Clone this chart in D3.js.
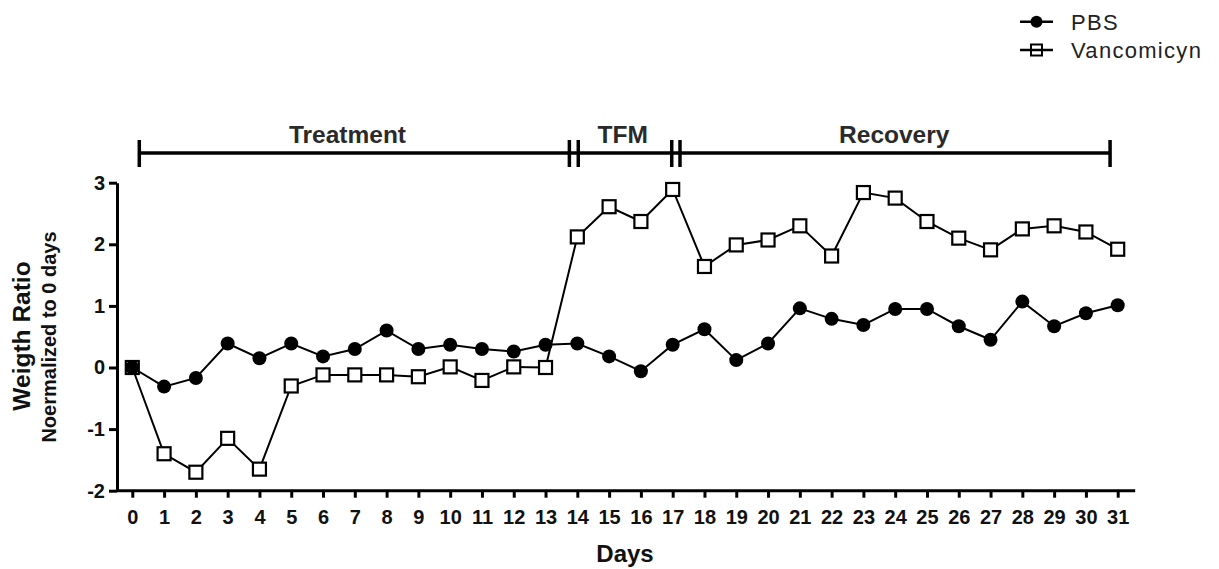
<!DOCTYPE html>
<html>
<head>
<meta charset="utf-8">
<script src="https://cdn.jsdelivr.net/npm/d3@7"></script>
<style>
  html, body { margin: 0; padding: 0; background: #fff; }
  svg { display: block; font-family: "Liberation Sans", Arial, sans-serif; }
</style>
</head>
<body>
<svg id="chart" width="1219" height="569"></svg>
<script>
// ---- data ----
const days = [0,1,2,3,4,5,6,7,8,9,10,11,12,13,14,15,16,17,18,19,20,21,22,23,24,25,26,27,28,29,30,31];
const pbs = [0,-0.31,-0.17,0.39,0.15,0.39,0.18,0.30,0.60,0.30,0.37,0.30,0.26,0.37,0.39,
             0.18,-0.06,0.37,0.62,0.12,0.39,0.96,0.79,0.69,0.95,0.95,0.67,0.45,1.07,0.67,0.88,1.01];
const vanco = [0,-1.40,-1.70,-1.15,-1.65,-0.30,-0.12,-0.12,-0.12,-0.15,0.01,-0.21,0.01,0,2.12,
               2.61,2.37,2.89,1.64,1.99,2.07,2.30,1.81,2.84,2.75,2.37,2.10,1.91,2.25,2.30,2.20,1.92];
const yTicks = [-2,-1,0,1,2,3];
const seriesNames = ["PBS", "Vancomicyn"];
const phaseNames = ["Treatment", "TFM", "Recovery"];
const phaseStarts = [0.22, 14.03, 17.23];
const phaseEnds = [13.75, 16.97, 30.76];
const phaseLabelAt = [6.77, 15.43, 23.97];

// ---- layout ----
const svg = d3.select("#chart");
const x = d3.scaleLinear().domain([0, 31]).range([132.3, 1117.7]);
const y = d3.scaleLinear().domain([-2, 3]).range([490.7, 182.7]);
const axisX = 117;

// y axis
const gy = svg.append("g").attr("transform", `translate(${axisX},0)`)
  .call(d3.axisLeft(y).tickValues(yTicks).tickSize(8).tickSizeOuter(0).tickPadding(4).tickFormat(d => String(d)));
gy.select(".domain").attr("stroke", "#000").attr("stroke-width", 3);
gy.selectAll(".tick line").attr("stroke", "#000").attr("stroke-width", 3);
gy.selectAll(".tick text").attr("font-size", 20).attr("font-weight", "bold")
  .attr("font-family", "Liberation Sans, Arial, sans-serif").attr("fill", "#111");

// x axis
const gx = svg.append("g").attr("transform", `translate(0,${y(-2)})`)
  .call(d3.axisBottom(x).tickValues(days).tickSize(7).tickSizeOuter(0).tickPadding(12).tickFormat(d => String(d)));
gx.select(".domain").remove();
gx.append("line").attr("x1", axisX).attr("x2", x(31) + 17.5).attr("y1", 0).attr("y2", 0)
  .attr("stroke", "#000").attr("stroke-width", 3);
gx.selectAll(".tick line").attr("stroke", "#000").attr("stroke-width", 3);
gx.selectAll(".tick text").attr("font-size", 20).attr("font-weight", "bold")
  .attr("font-family", "Liberation Sans, Arial, sans-serif").attr("fill", "#111");

// axis titles
svg.append("text").attr("transform", "translate(30,336) rotate(-90)")
  .attr("text-anchor", "middle").attr("font-size", 24.5).attr("font-weight", "bold").attr("fill", "#111")
  .text("Weigth Ratio");
svg.append("text").attr("transform", "translate(55.5,337) rotate(-90)")
  .attr("text-anchor", "middle").attr("font-size", 20).attr("font-weight", "bold").attr("fill", "#111")
  .text("Noermalized to 0 days");
svg.append("text").attr("x", 625).attr("y", 561.7)
  .attr("text-anchor", "middle").attr("font-size", 24).attr("font-weight", "bold").attr("fill", "#111")
  .text("Days");

// phase bracket
const by = 153;
const gb = svg.append("g");
gb.append("line").attr("x1", x(phaseStarts[0])).attr("x2", x(phaseEnds[2]))
  .attr("y1", by).attr("y2", by).attr("stroke", "#000").attr("stroke-width", 3.5);
const caps = phaseStarts.concat(phaseEnds);
gb.selectAll("line.cap").data(caps).join("line").attr("class", "cap")
  .attr("x1", d => x(d)).attr("x2", d => x(d))
  .attr("y1", 140).attr("y2", 167).attr("stroke", "#000").attr("stroke-width", 3.5);
gb.selectAll("text.phase").data(phaseNames).join("text").attr("class", "phase")
  .attr("x", (d, i) => x(phaseLabelAt[i])).attr("y", 143.3)
  .attr("text-anchor", "middle").attr("font-size", 24.5).attr("font-weight", "bold").attr("fill", "#2a2a2a")
  .text(d => d);

// lines
const line = d3.line().x((d, i) => x(days[i])).y(d => y(d));
svg.append("path").datum(vanco).attr("d", line).attr("fill", "none").attr("stroke", "#000").attr("stroke-width", 2);
svg.append("path").datum(pbs).attr("d", line).attr("fill", "none").attr("stroke", "#000").attr("stroke-width", 2);

// markers
const sq = 13;
svg.append("g").selectAll("rect").data(vanco).join("rect")
  .attr("x", (d, i) => x(days[i]) - sq / 2).attr("y", d => y(d) - sq / 2)
  .attr("width", sq).attr("height", sq)
  .attr("fill", "#fff").attr("stroke", "#000").attr("stroke-width", 2.2);
svg.append("g").selectAll("circle").data(pbs).join("circle")
  .attr("cx", (d, i) => x(days[i])).attr("cy", d => y(d)).attr("r", 7).attr("fill", "#000");

// legend
const lg = svg.append("g");
const legY = [21.7, 50];
seriesNames.forEach((name, i) => {
  lg.append("line").attr("x1", 1020).attr("x2", 1053).attr("y1", legY[i]).attr("y2", legY[i])
    .attr("stroke", "#000").attr("stroke-width", 2.5);
  if (i === 0) {
    lg.append("circle").attr("cx", 1036.5).attr("cy", legY[i]).attr("r", 6).attr("fill", "#000");
  } else {
    lg.append("rect").attr("x", 1036.5 - 5.5).attr("y", legY[i] - 5.5).attr("width", 11).attr("height", 11)
      .attr("fill", "none").attr("stroke", "#000").attr("stroke-width", 2);
  }
  lg.append("text").attr("x", 1071).attr("y", legY[i]).attr("dy", "0.36em")
    .attr("font-size", 22).attr("letter-spacing", 1.3).attr("fill", "#222").text(name);
});
</script>
</body>
</html>
